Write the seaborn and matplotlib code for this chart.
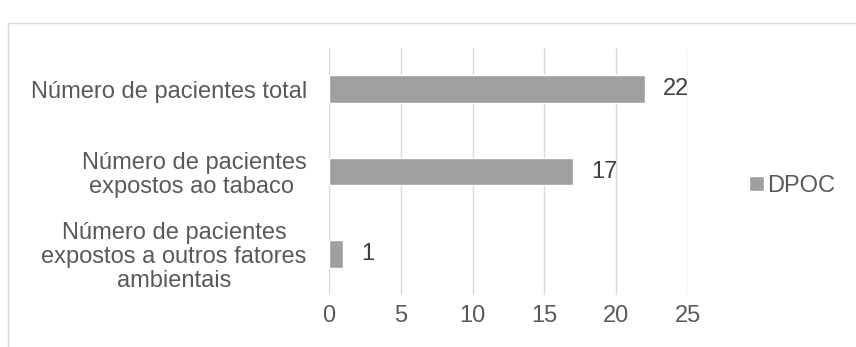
import matplotlib
matplotlib.use("Agg")
import matplotlib.pyplot as plt
import seaborn as sns
import pandas as pd
from matplotlib.patches import Rectangle

categories = [
    "Número de pacientes total",
    "Número de pacientes\nexpostos ao tabaco ",
    "Número de pacientes\nexpostos a outros fatores\nambientais",
]
values = [22, 17, 1]
series_name = "DPOC"
xticks = [0, 5, 10, 15, 20, 25]

df = pd.DataFrame({"cat": categories, "val": values, "serie": [series_name] * len(values)})

sns.set_theme(style="white")
plt.rcParams["font.family"] = ["Liberation Sans", "DejaVu Sans"]

text_color = "#595959"
bar_color = "#a0a0a0"
grid_color = "#d9d9d9"
fs = 17

fig = plt.figure(figsize=(8.56, 3.47), dpi=100)
ax = fig.add_axes([329 / 856, 1 - 295 / 347, (688 - 329) / 856, (295 - 48) / 347])

sns.barplot(data=df, x="val", y="cat", hue="serie", palette=[bar_color],
            orient="h", width=0.34, ax=ax, legend=True, saturation=1)

ax.set_xlim(0, 25)
ax.set_xticks(xticks)
ax.set_xticklabels([str(t) for t in xticks], fontsize=fs, color=text_color)
ax.tick_params(axis="x", length=0, pad=7)
ax.tick_params(axis="y", length=0, pad=16)
for lbl in ax.get_yticklabels():
    lbl.set_fontsize(fs)
    lbl.set_color(text_color)
    lbl.set_multialignment("center")
    lbl.set_linespacing(1.12)
ax.set_xlabel("")
ax.set_ylabel("")
ax.grid(axis="x", color=grid_color, linewidth=1)
ax.set_axisbelow(True)
for s in ax.spines.values():
    s.set_visible(False)

for cont in ax.containers:
    ax.bar_label(cont, labels=[str(v) for v in values], padding=13, fontsize=fs, color="#404040")

leg = ax.legend(loc="center left", bbox_to_anchor=(740 / 856, 1 - 186 / 347),
                bbox_transform=fig.transFigure, frameon=False, fontsize=fs,
                handlelength=0.6, handleheight=0.6, handletextpad=0.15,
                borderaxespad=0)
for t in leg.get_texts():
    t.set_color(text_color)

fig.patches.append(Rectangle((8 / 856, -0.1), 1.2, 1.1 - 23 / 347 + 0.0,
                             transform=fig.transFigure, fill=False,
                             edgecolor=grid_color, linewidth=1))

fig.savefig("out.png", dpi=100)
